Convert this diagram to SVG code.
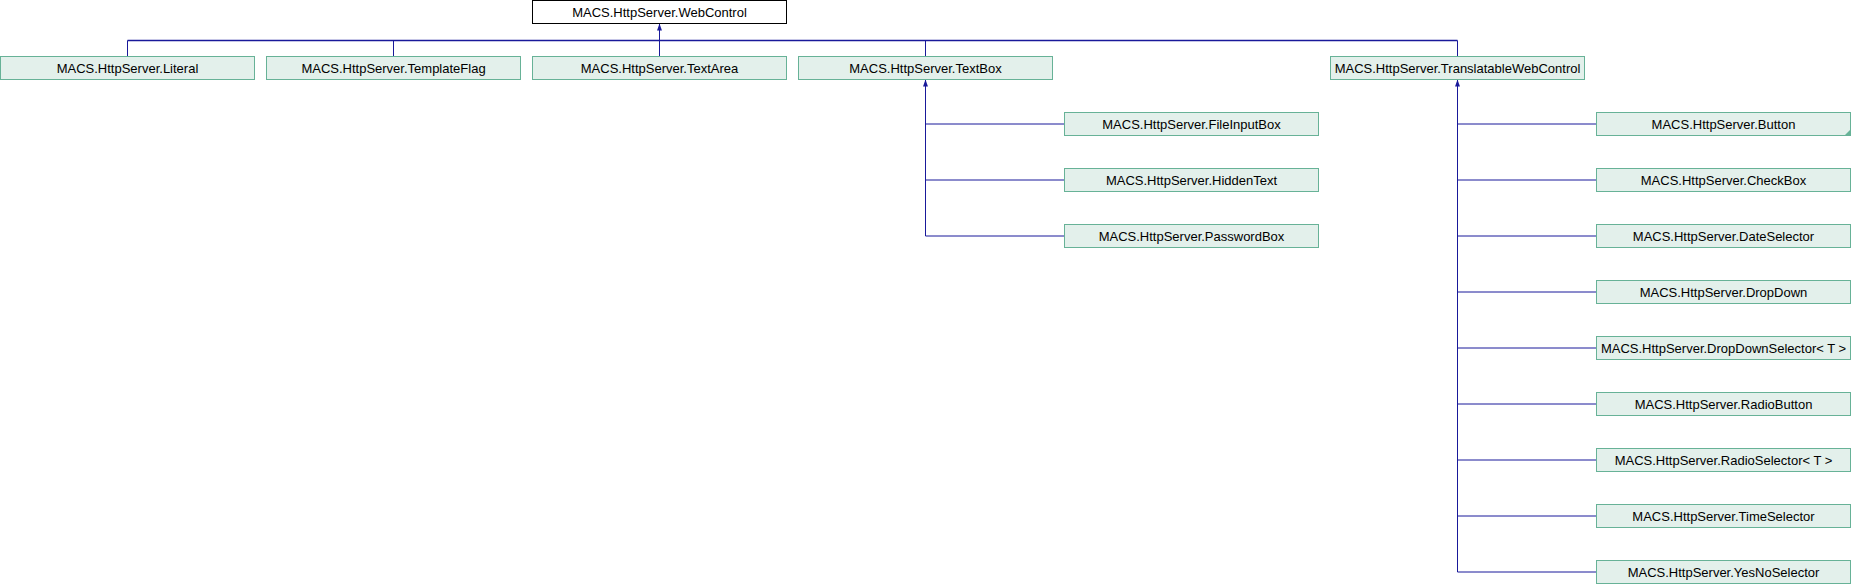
<svg xmlns="http://www.w3.org/2000/svg" width="1852" height="584" viewBox="0 0 1852 584">
<style>
  .n rect { fill: #e3f0eb; stroke: #67b297; stroke-width: 1; }
  .root rect { fill: #ffffff; stroke: #000000; stroke-width: 1; }
  text { font-family: "Liberation Sans", Arial, sans-serif; font-size: 13px; fill: #000000; text-anchor: middle; }
  .e { fill: none; stroke: #19199a; stroke-width: 1; }
  .bus { fill: none; stroke: #19199a; stroke-width: 1.4; }
</style>
<defs>
  <marker id="arr" viewBox="0 0 10 10" refX="10" refY="5" markerWidth="7" markerHeight="7" markerUnits="userSpaceOnUse" orient="auto-start-reverse">
    <path d="M0,1.5 L10,5 L0,8.5 z" fill="#19199a"/>
  </marker>
</defs>
<g id="connectors">
  <path class="bus" d="M127.5,40.5 H1457.5"/>
  <path class="e" d="M127.5,40.5 V56.5"/>
  <path class="e" d="M393.5,40.5 V56.5"/>
  <path class="e" d="M925.5,40.5 V56.5"/>
  <path class="e" d="M1457.5,40.5 V56.5"/>
  <path class="e" d="M659.5,23.5 V56.5" marker-start="url(#arr)"/>
  <path class="e" d="M925.5,79.5 V236" marker-start="url(#arr)"/>
  <path class="e" d="M925.5,124 H1064.5 M925.5,180 H1064.5 M925.5,236 H1064.5"/>
  <path class="e" d="M1457.5,79.5 V572" marker-start="url(#arr)"/>
  <path class="e" d="M1457.5,124 H1596.5 M1457.5,180 H1596.5 M1457.5,236 H1596.5 M1457.5,292 H1596.5 M1457.5,348 H1596.5 M1457.5,404 H1596.5 M1457.5,460 H1596.5 M1457.5,516 H1596.5 M1457.5,572 H1596.5"/>
</g>
<g id="WebControl" class="root"><rect x="532.5" y="0.5" width="254" height="23"/><text x="659.5" y="16.5">MACS.HttpServer.WebControl</text></g>
<g id="Literal" class="n"><rect x="0.5" y="56.5" width="254" height="23"/><text x="127.5" y="72.5">MACS.HttpServer.Literal</text></g>
<g id="TemplateFlag" class="n"><rect x="266.5" y="56.5" width="254" height="23"/><text x="393.5" y="72.5">MACS.HttpServer.TemplateFlag</text></g>
<g id="TextArea" class="n"><rect x="532.5" y="56.5" width="254" height="23"/><text x="659.5" y="72.5">MACS.HttpServer.TextArea</text></g>
<g id="TextBox" class="n"><rect x="798.5" y="56.5" width="254" height="23"/><text x="925.5" y="72.5">MACS.HttpServer.TextBox</text></g>
<g id="TranslatableWebControl" class="n"><rect x="1330.5" y="56.5" width="254" height="23"/><text x="1457.5" y="72.5">MACS.HttpServer.TranslatableWebControl</text></g>
<g id="FileInputBox" class="n"><rect x="1064.5" y="112.5" width="254" height="23"/><text x="1191.5" y="128.5">MACS.HttpServer.FileInputBox</text></g>
<g id="HiddenText" class="n"><rect x="1064.5" y="168.5" width="254" height="23"/><text x="1191.5" y="184.5">MACS.HttpServer.HiddenText</text></g>
<g id="PasswordBox" class="n"><rect x="1064.5" y="224.5" width="254" height="23"/><text x="1191.5" y="240.5">MACS.HttpServer.PasswordBox</text></g>
<g id="Button" class="n"><rect x="1596.5" y="112.5" width="254" height="23"/><polygon points="1844.5,135.5 1850.5,135.5 1850.5,129.5" fill="#67b297"/><text x="1723.5" y="128.5">MACS.HttpServer.Button</text></g>
<g id="CheckBox" class="n"><rect x="1596.5" y="168.5" width="254" height="23"/><text x="1723.5" y="184.5">MACS.HttpServer.CheckBox</text></g>
<g id="DateSelector" class="n"><rect x="1596.5" y="224.5" width="254" height="23"/><text x="1723.5" y="240.5">MACS.HttpServer.DateSelector</text></g>
<g id="DropDown" class="n"><rect x="1596.5" y="280.5" width="254" height="23"/><text x="1723.5" y="296.5">MACS.HttpServer.DropDown</text></g>
<g id="DropDownSelector" class="n"><rect x="1596.5" y="336.5" width="254" height="23"/><text x="1723.5" y="352.5">MACS.HttpServer.DropDownSelector&lt; T &gt;</text></g>
<g id="RadioButton" class="n"><rect x="1596.5" y="392.5" width="254" height="23"/><text x="1723.5" y="408.5">MACS.HttpServer.RadioButton</text></g>
<g id="RadioSelector" class="n"><rect x="1596.5" y="448.5" width="254" height="23"/><text x="1723.5" y="464.5">MACS.HttpServer.RadioSelector&lt; T &gt;</text></g>
<g id="TimeSelector" class="n"><rect x="1596.5" y="504.5" width="254" height="23"/><text x="1723.5" y="520.5">MACS.HttpServer.TimeSelector</text></g>
<g id="YesNoSelector" class="n"><rect x="1596.5" y="560.5" width="254" height="23"/><text x="1723.5" y="576.5">MACS.HttpServer.YesNoSelector</text></g>
</svg>
